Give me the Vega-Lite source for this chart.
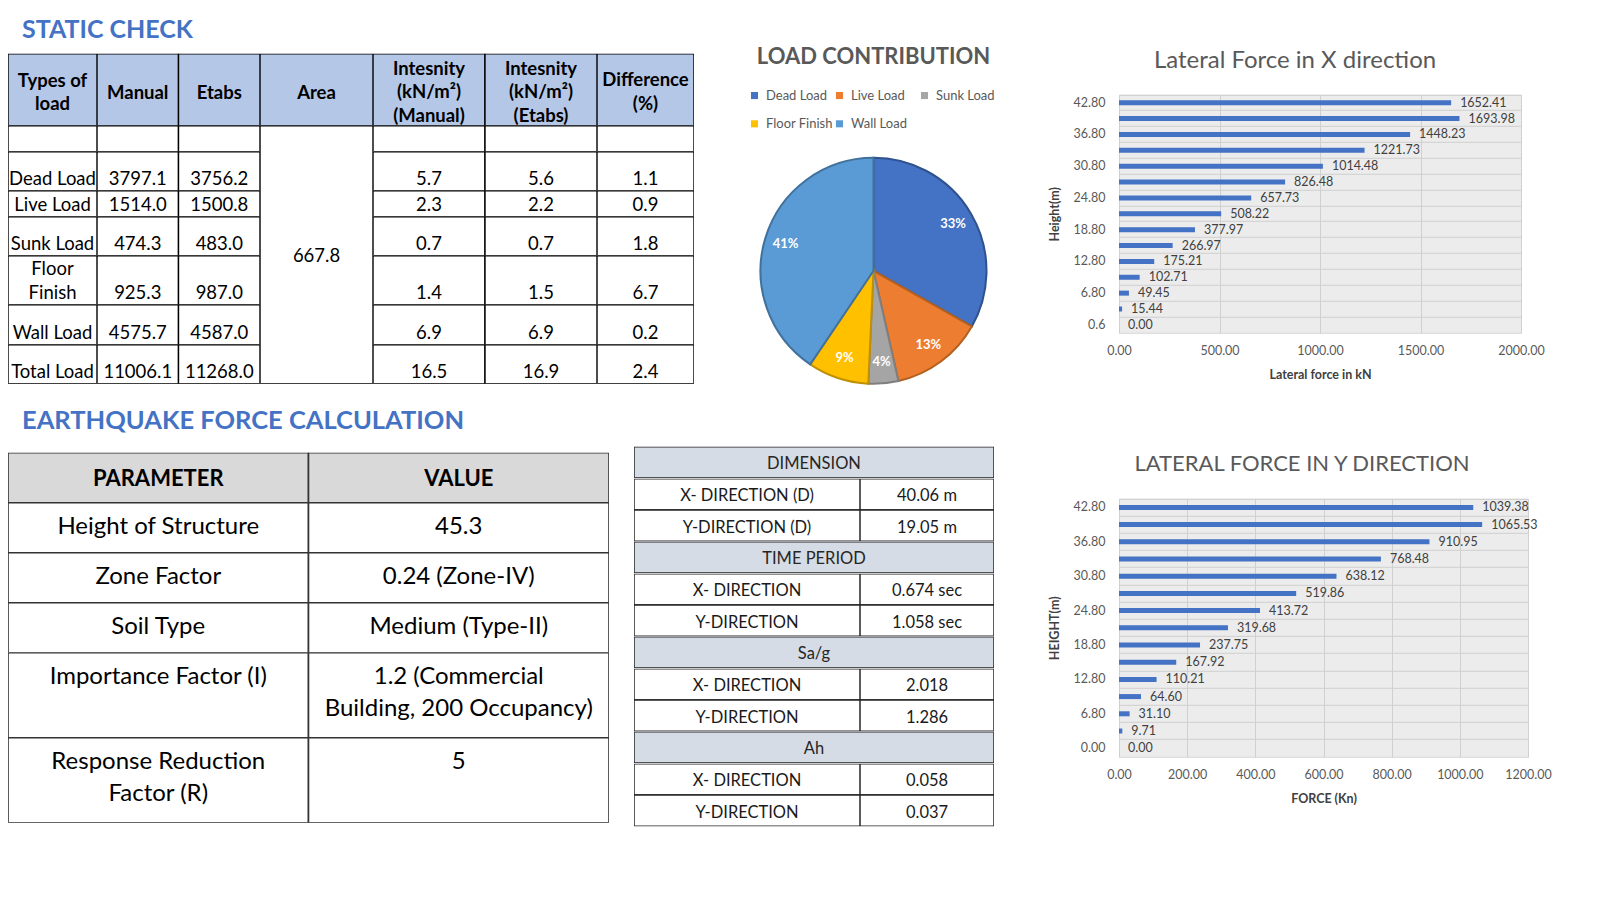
{
"$schema":"https://vega.github.io/schema/vega-lite/v6.json",
"background":"#ffffff",
"padding":{"left":8,"top":16.8,"right":0,"bottom":0},
"autosize":{"type":"pad"},
"config":{"font":"Lato","view":{"stroke":null}},
"title":{"text":"STATIC CHECK","anchor":"start","frame":"group","fontSize":25,"fontWeight":"bold","color":"#4472C4","dx":14,"offset":2.2},
"resolve":{"scale":{"color":"independent","stroke":"independent"}},
"datasets":{
"stL":[
{"r":"H","c":"Types","v":"Types of\nload"},{"r":"H","c":"Manual","v":"Manual"},{"r":"H","c":"Etabs","v":"Etabs"},
{"r":"B","c":"Types","v":""},{"r":"B","c":"Manual","v":""},{"r":"B","c":"Etabs","v":""},
{"r":"Dead","c":"Types","v":"Dead Load"},{"r":"Dead","c":"Manual","v":"3797.1"},{"r":"Dead","c":"Etabs","v":"3756.2"},
{"r":"Live","c":"Types","v":"Live Load"},{"r":"Live","c":"Manual","v":"1514.0"},{"r":"Live","c":"Etabs","v":"1500.8"},
{"r":"Sunk","c":"Types","v":"Sunk Load"},{"r":"Sunk","c":"Manual","v":"474.3"},{"r":"Sunk","c":"Etabs","v":"483.0"},
{"r":"Floor","c":"Types","v":"Floor\nFinish"},{"r":"Floor","c":"Manual","v":"925.3"},{"r":"Floor","c":"Etabs","v":"987.0"},
{"r":"Wall","c":"Types","v":"Wall Load"},{"r":"Wall","c":"Manual","v":"4575.7"},{"r":"Wall","c":"Etabs","v":"4587.0"},
{"r":"Total","c":"Types","v":"Total Load"},{"r":"Total","c":"Manual","v":"11006.1"},{"r":"Total","c":"Etabs","v":"11268.0"}
],
"stR":[
{"r":"H","c":"IM","v":"Intesnity\n(kN/m²)\n(Manual)"},{"r":"H","c":"IE","v":"Intesnity\n(kN/m²)\n(Etabs)"},{"r":"H","c":"D","v":"Difference\n(%)"},
{"r":"B","c":"IM","v":""},{"r":"B","c":"IE","v":""},{"r":"B","c":"D","v":""},
{"r":"Dead","c":"IM","v":"5.7"},{"r":"Dead","c":"IE","v":"5.6"},{"r":"Dead","c":"D","v":"1.1"},
{"r":"Live","c":"IM","v":"2.3"},{"r":"Live","c":"IE","v":"2.2"},{"r":"Live","c":"D","v":"0.9"},
{"r":"Sunk","c":"IM","v":"0.7"},{"r":"Sunk","c":"IE","v":"0.7"},{"r":"Sunk","c":"D","v":"1.8"},
{"r":"Floor","c":"IM","v":"1.4"},{"r":"Floor","c":"IE","v":"1.5"},{"r":"Floor","c":"D","v":"6.7"},
{"r":"Wall","c":"IM","v":"6.9"},{"r":"Wall","c":"IE","v":"6.9"},{"r":"Wall","c":"D","v":"0.2"},
{"r":"Total","c":"IM","v":"16.5"},{"r":"Total","c":"IE","v":"16.9"},{"r":"Total","c":"D","v":"2.4"}
],
"stA":[{"r":"H","v":"Area"},{"r":"Body","v":"667.8"}],
"pie":[
{"load":"Dead Load","etabs":3756.2,"o":1,"pct":"33%"},
{"load":"Live Load","etabs":1500.8,"o":2,"pct":"13%"},
{"load":"Sunk Load","etabs":483.0,"o":3,"pct":"4%"},
{"load":"Floor Finish","etabs":987.0,"o":4,"pct":"9%"},
{"load":"Wall Load","etabs":4587.0,"o":5,"pct":"41%"}
],
"fx":[
{"h":"42.80","f":1652.41},{"h":"39.80","f":1693.98},{"h":"36.80","f":1448.23},{"h":"33.80","f":1221.73},{"h":"30.80","f":1014.48},{"h":"27.80","f":826.48},{"h":"24.80","f":657.73},{"h":"21.80","f":508.22},{"h":"18.80","f":377.97},{"h":"15.80","f":266.97},{"h":"12.80","f":175.21},{"h":"9.80","f":102.71},{"h":"6.80","f":49.45},{"h":"3.80","f":15.44},{"h":"0.6","f":0}
],
"fy":[
{"h":"42.80","f":1039.38},{"h":"39.80","f":1065.53},{"h":"36.80","f":910.95},{"h":"33.80","f":768.48},{"h":"30.80","f":638.12},{"h":"27.80","f":519.86},{"h":"24.80","f":413.72},{"h":"21.80","f":319.68},{"h":"18.80","f":237.75},{"h":"15.80","f":167.92},{"h":"12.80","f":110.21},{"h":"9.80","f":64.60},{"h":"6.80","f":31.10},{"h":"3.80","f":9.71},{"h":"0.00","f":0}
],
"eq":[
{"r":0,"c":"P","v":"PARAMETER"},{"r":0,"c":"V","v":"VALUE"},
{"r":1,"c":"P","v":"Height of Structure"},{"r":1,"c":"V","v":"45.3"},
{"r":2,"c":"P","v":"Zone Factor"},{"r":2,"c":"V","v":"0.24 (Zone-IV)"},
{"r":3,"c":"P","v":"Soil Type"},{"r":3,"c":"V","v":"Medium (Type-II)"},
{"r":4,"c":"P","v":"Importance Factor (I)"},{"r":4,"c":"V","v":"1.2 (Commercial\nBuilding, 200 Occupancy)"},
{"r":5,"c":"P","v":"Response Reduction\nFactor (R)"},{"r":5,"c":"V","v":"5"}
],
"dim":[
{"r":1,"hdr":true,"L":"DIMENSION","R":""},
{"r":2,"hdr":false,"L":"X- DIRECTION (D)","R":"40.06 m"},
{"r":3,"hdr":false,"L":"Y-DIRECTION (D)","R":"19.05 m"},
{"r":4,"hdr":true,"L":"TIME PERIOD","R":""},
{"r":5,"hdr":false,"L":"X- DIRECTION","R":"0.674 sec"},
{"r":6,"hdr":false,"L":"Y-DIRECTION","R":"1.058 sec"},
{"r":7,"hdr":true,"L":"Sa/g","R":""},
{"r":8,"hdr":false,"L":"X- DIRECTION","R":"2.018"},
{"r":9,"hdr":false,"L":"Y-DIRECTION","R":"1.286"},
{"r":10,"hdr":true,"L":"Ah","R":""},
{"r":11,"hdr":false,"L":"X- DIRECTION","R":"0.058"},
{"r":12,"hdr":false,"L":"Y-DIRECTION","R":"0.037"}
]
},
"vconcat":[
{"resolve":{"scale":{"color":"independent","stroke":"independent"}},
 "hconcat":[
 {"vconcat":[
  {"width":686,"height":9,"data":{"values":[{}]},"mark":{"type":"point","opacity":0,"size":1},"view":{"fill":"#ffffff"}},
  {"hconcat":[
  {"vconcat":[
   {"width":89,"height":72,"data":{"name":"stL"},"transform":[{"filter":"datum.r==='H'&&datum.c==='Types'"}],"encoding":{"x":{"field":"c","type":"nominal","axis":null,"scale":{"paddingInner":0,"paddingOuter":0}}},"layer":[{"mark":{"type":"rect","fill":"#B4C7E7","stroke":"#000000","strokeWidth":1.4,"clip":true}},{"mark":{"type":"text","baseline":"middle","dy":-9,"fontSize":18.5,"fontWeight":"bold","lineBreak":"\n","lineHeight":23,"fill":"#000000"},"encoding":{"text":{"field":"v"}}}]},
   {"width":89,"height":26,"data":{"name":"stL"},"transform":[{"filter":"datum.r==='B'&&datum.c==='Types'"}],"encoding":{"x":{"field":"c","type":"nominal","axis":null,"scale":{"paddingInner":0,"paddingOuter":0}}},"layer":[{"mark":{"type":"rect","fill":"#ffffff","stroke":"#000000","strokeWidth":1.4,"clip":true}}]},
   {"width":89,"height":39,"data":{"name":"stL"},"transform":[{"filter":"datum.r==='Dead'&&datum.c==='Types'"}],"encoding":{"x":{"field":"c","type":"nominal","axis":null,"scale":{"paddingInner":0,"paddingOuter":0}}},"layer":[{"mark":{"type":"rect","fill":"#ffffff","stroke":"#000000","strokeWidth":1.4,"clip":true}},{"mark":{"type":"text","baseline":"bottom","dy":18,"fontSize":18.5,"fill":"#000000"},"encoding":{"text":{"field":"v"}}}]},
   {"width":89,"height":26,"data":{"name":"stL"},"transform":[{"filter":"datum.r==='Live'&&datum.c==='Types'"}],"encoding":{"x":{"field":"c","type":"nominal","axis":null,"scale":{"paddingInner":0,"paddingOuter":0}}},"layer":[{"mark":{"type":"rect","fill":"#ffffff","stroke":"#000000","strokeWidth":1.4,"clip":true}},{"mark":{"type":"text","baseline":"bottom","dy":11.5,"fontSize":18.5,"fill":"#000000"},"encoding":{"text":{"field":"v"}}}]},
   {"width":89,"height":39,"data":{"name":"stL"},"transform":[{"filter":"datum.r==='Sunk'&&datum.c==='Types'"}],"encoding":{"x":{"field":"c","type":"nominal","axis":null,"scale":{"paddingInner":0,"paddingOuter":0}}},"layer":[{"mark":{"type":"rect","fill":"#ffffff","stroke":"#000000","strokeWidth":1.4,"clip":true}},{"mark":{"type":"text","baseline":"bottom","dy":18,"fontSize":18.5,"fill":"#000000"},"encoding":{"text":{"field":"v"}}}]},
   {"width":89,"height":49,"data":{"name":"stL"},"transform":[{"filter":"datum.r==='Floor'&&datum.c==='Types'"}],"encoding":{"x":{"field":"c","type":"nominal","axis":null,"scale":{"paddingInner":0,"paddingOuter":0}}},"layer":[{"mark":{"type":"rect","fill":"#ffffff","stroke":"#000000","strokeWidth":1.4,"clip":true}},{"mark":{"type":"text","baseline":"bottom","dy":-1,"fontSize":18.5,"lineBreak":"\n","lineHeight":24,"fill":"#000000"},"encoding":{"text":{"field":"v"}}}]},
   {"width":89,"height":40,"data":{"name":"stL"},"transform":[{"filter":"datum.r==='Wall'&&datum.c==='Types'"}],"encoding":{"x":{"field":"c","type":"nominal","axis":null,"scale":{"paddingInner":0,"paddingOuter":0}}},"layer":[{"mark":{"type":"rect","fill":"#ffffff","stroke":"#000000","strokeWidth":1.4,"clip":true}},{"mark":{"type":"text","baseline":"bottom","dy":18.5,"fontSize":18.5,"fill":"#000000"},"encoding":{"text":{"field":"v"}}}]},
   {"width":89,"height":39,"data":{"name":"stL"},"transform":[{"filter":"datum.r==='Total'&&datum.c==='Types'"}],"encoding":{"x":{"field":"c","type":"nominal","axis":null,"scale":{"paddingInner":0,"paddingOuter":0}}},"layer":[{"mark":{"type":"rect","fill":"#ffffff","stroke":"#000000","strokeWidth":1.4,"clip":true}},{"mark":{"type":"text","baseline":"bottom","dy":18,"fontSize":18.5,"fill":"#000000"},"encoding":{"text":{"field":"v"}}}]}
  ],"spacing":0,"bounds":"flush"},
  {"vconcat":[
   {"width":163,"height":72,"data":{"name":"stL"},"transform":[{"filter":"datum.r==='H'&&datum.c!=='Types'"}],"encoding":{"x":{"field":"c","type":"nominal","sort":["Manual","Etabs"],"axis":null,"scale":{"paddingInner":0,"paddingOuter":0}}},"layer":[{"mark":{"type":"rect","fill":"#B4C7E7","stroke":"#000000","strokeWidth":1.4,"clip":true}},{"mark":{"type":"text","baseline":"middle","dy":3,"fontSize":18.5,"fontWeight":"bold","fill":"#000000"},"encoding":{"text":{"field":"v"}}}]},
   {"width":163,"height":26,"data":{"name":"stL"},"transform":[{"filter":"datum.r==='B'&&datum.c!=='Types'"}],"encoding":{"x":{"field":"c","type":"nominal","sort":["Manual","Etabs"],"axis":null,"scale":{"paddingInner":0,"paddingOuter":0}}},"layer":[{"mark":{"type":"rect","fill":"#ffffff","stroke":"#000000","strokeWidth":1.4,"clip":true}}]},
   {"width":163,"height":39,"data":{"name":"stL"},"transform":[{"filter":"datum.r==='Dead'&&datum.c!=='Types'"}],"encoding":{"x":{"field":"c","type":"nominal","sort":["Manual","Etabs"],"axis":null,"scale":{"paddingInner":0,"paddingOuter":0}}},"layer":[{"mark":{"type":"rect","fill":"#ffffff","stroke":"#000000","strokeWidth":1.4,"clip":true}},{"mark":{"type":"text","baseline":"bottom","dy":18,"fontSize":18.5,"fill":"#000000"},"encoding":{"text":{"field":"v"}}}]},
   {"width":163,"height":26,"data":{"name":"stL"},"transform":[{"filter":"datum.r==='Live'&&datum.c!=='Types'"}],"encoding":{"x":{"field":"c","type":"nominal","sort":["Manual","Etabs"],"axis":null,"scale":{"paddingInner":0,"paddingOuter":0}}},"layer":[{"mark":{"type":"rect","fill":"#ffffff","stroke":"#000000","strokeWidth":1.4,"clip":true}},{"mark":{"type":"text","baseline":"bottom","dy":11.5,"fontSize":18.5,"fill":"#000000"},"encoding":{"text":{"field":"v"}}}]},
   {"width":163,"height":39,"data":{"name":"stL"},"transform":[{"filter":"datum.r==='Sunk'&&datum.c!=='Types'"}],"encoding":{"x":{"field":"c","type":"nominal","sort":["Manual","Etabs"],"axis":null,"scale":{"paddingInner":0,"paddingOuter":0}}},"layer":[{"mark":{"type":"rect","fill":"#ffffff","stroke":"#000000","strokeWidth":1.4,"clip":true}},{"mark":{"type":"text","baseline":"bottom","dy":18,"fontSize":18.5,"fill":"#000000"},"encoding":{"text":{"field":"v"}}}]},
   {"width":163,"height":49,"data":{"name":"stL"},"transform":[{"filter":"datum.r==='Floor'&&datum.c!=='Types'"}],"encoding":{"x":{"field":"c","type":"nominal","sort":["Manual","Etabs"],"axis":null,"scale":{"paddingInner":0,"paddingOuter":0}}},"layer":[{"mark":{"type":"rect","fill":"#ffffff","stroke":"#000000","strokeWidth":1.4,"clip":true}},{"mark":{"type":"text","baseline":"bottom","dy":23,"fontSize":18.5,"fill":"#000000"},"encoding":{"text":{"field":"v"}}}]},
   {"width":163,"height":40,"data":{"name":"stL"},"transform":[{"filter":"datum.r==='Wall'&&datum.c!=='Types'"}],"encoding":{"x":{"field":"c","type":"nominal","sort":["Manual","Etabs"],"axis":null,"scale":{"paddingInner":0,"paddingOuter":0}}},"layer":[{"mark":{"type":"rect","fill":"#ffffff","stroke":"#000000","strokeWidth":1.4,"clip":true}},{"mark":{"type":"text","baseline":"bottom","dy":18.5,"fontSize":18.5,"fill":"#000000"},"encoding":{"text":{"field":"v"}}}]},
   {"width":163,"height":39,"data":{"name":"stL"},"transform":[{"filter":"datum.r==='Total'&&datum.c!=='Types'"}],"encoding":{"x":{"field":"c","type":"nominal","sort":["Manual","Etabs"],"axis":null,"scale":{"paddingInner":0,"paddingOuter":0}}},"layer":[{"mark":{"type":"rect","fill":"#ffffff","stroke":"#000000","strokeWidth":1.4,"clip":true}},{"mark":{"type":"text","baseline":"bottom","dy":18,"fontSize":18.5,"fill":"#000000"},"encoding":{"text":{"field":"v"}}}]}
  ],"spacing":0,"bounds":"flush"},
  {"vconcat":[
   {"width":113,"height":72,"data":{"name":"stA"},"transform":[{"filter":"datum.r==='H'"}],"encoding":{"x":{"field":"r","type":"nominal","axis":null,"scale":{"paddingInner":0,"paddingOuter":0}}},"layer":[{"mark":{"type":"rect","fill":"#B4C7E7","stroke":"#000000","strokeWidth":1.4,"clip":true}},{"mark":{"type":"text","baseline":"middle","dy":3,"fontSize":18.5,"fontWeight":"bold","fill":"#000000"},"encoding":{"text":{"field":"v"}}}]},
   {"width":113,"height":258,"data":{"name":"stA"},"transform":[{"filter":"datum.r==='Body'"}],"encoding":{"x":{"field":"r","type":"nominal","axis":null,"scale":{"paddingInner":0,"paddingOuter":0}}},"layer":[{"mark":{"type":"rect","fill":"#ffffff","stroke":"#000000","strokeWidth":1.4,"clip":true}},{"mark":{"type":"text","baseline":"middle","dy":1,"fontSize":18.5,"fill":"#000000"},"encoding":{"text":{"field":"v"}}}]}
  ],"spacing":0,"bounds":"flush"},
  {"vconcat":[
   {"width":224,"height":72,"data":{"name":"stR"},"transform":[{"filter":"datum.r==='H'&&datum.c!=='D'"}],"encoding":{"x":{"field":"c","type":"nominal","sort":["IM","IE"],"axis":null,"scale":{"paddingInner":0,"paddingOuter":0}}},"layer":[{"mark":{"type":"rect","fill":"#B4C7E7","stroke":"#000000","strokeWidth":1.4,"clip":true}},{"mark":{"type":"text","baseline":"middle","dy":-21,"fontSize":18.5,"fontWeight":"bold","lineBreak":"\n","lineHeight":23.5,"fill":"#000000"},"encoding":{"text":{"field":"v"}}}]},
   {"width":224,"height":26,"data":{"name":"stR"},"transform":[{"filter":"datum.r==='B'&&datum.c!=='D'"}],"encoding":{"x":{"field":"c","type":"nominal","sort":["IM","IE"],"axis":null,"scale":{"paddingInner":0,"paddingOuter":0}}},"layer":[{"mark":{"type":"rect","fill":"#ffffff","stroke":"#000000","strokeWidth":1.4,"clip":true}}]},
   {"width":224,"height":39,"data":{"name":"stR"},"transform":[{"filter":"datum.r==='Dead'&&datum.c!=='D'"}],"encoding":{"x":{"field":"c","type":"nominal","sort":["IM","IE"],"axis":null,"scale":{"paddingInner":0,"paddingOuter":0}}},"layer":[{"mark":{"type":"rect","fill":"#ffffff","stroke":"#000000","strokeWidth":1.4,"clip":true}},{"mark":{"type":"text","baseline":"bottom","dy":18,"fontSize":18.5,"fill":"#000000"},"encoding":{"text":{"field":"v"}}}]},
   {"width":224,"height":26,"data":{"name":"stR"},"transform":[{"filter":"datum.r==='Live'&&datum.c!=='D'"}],"encoding":{"x":{"field":"c","type":"nominal","sort":["IM","IE"],"axis":null,"scale":{"paddingInner":0,"paddingOuter":0}}},"layer":[{"mark":{"type":"rect","fill":"#ffffff","stroke":"#000000","strokeWidth":1.4,"clip":true}},{"mark":{"type":"text","baseline":"bottom","dy":11.5,"fontSize":18.5,"fill":"#000000"},"encoding":{"text":{"field":"v"}}}]},
   {"width":224,"height":39,"data":{"name":"stR"},"transform":[{"filter":"datum.r==='Sunk'&&datum.c!=='D'"}],"encoding":{"x":{"field":"c","type":"nominal","sort":["IM","IE"],"axis":null,"scale":{"paddingInner":0,"paddingOuter":0}}},"layer":[{"mark":{"type":"rect","fill":"#ffffff","stroke":"#000000","strokeWidth":1.4,"clip":true}},{"mark":{"type":"text","baseline":"bottom","dy":18,"fontSize":18.5,"fill":"#000000"},"encoding":{"text":{"field":"v"}}}]},
   {"width":224,"height":49,"data":{"name":"stR"},"transform":[{"filter":"datum.r==='Floor'&&datum.c!=='D'"}],"encoding":{"x":{"field":"c","type":"nominal","sort":["IM","IE"],"axis":null,"scale":{"paddingInner":0,"paddingOuter":0}}},"layer":[{"mark":{"type":"rect","fill":"#ffffff","stroke":"#000000","strokeWidth":1.4,"clip":true}},{"mark":{"type":"text","baseline":"bottom","dy":23,"fontSize":18.5,"fill":"#000000"},"encoding":{"text":{"field":"v"}}}]},
   {"width":224,"height":40,"data":{"name":"stR"},"transform":[{"filter":"datum.r==='Wall'&&datum.c!=='D'"}],"encoding":{"x":{"field":"c","type":"nominal","sort":["IM","IE"],"axis":null,"scale":{"paddingInner":0,"paddingOuter":0}}},"layer":[{"mark":{"type":"rect","fill":"#ffffff","stroke":"#000000","strokeWidth":1.4,"clip":true}},{"mark":{"type":"text","baseline":"bottom","dy":18.5,"fontSize":18.5,"fill":"#000000"},"encoding":{"text":{"field":"v"}}}]},
   {"width":224,"height":39,"data":{"name":"stR"},"transform":[{"filter":"datum.r==='Total'&&datum.c!=='D'"}],"encoding":{"x":{"field":"c","type":"nominal","sort":["IM","IE"],"axis":null,"scale":{"paddingInner":0,"paddingOuter":0}}},"layer":[{"mark":{"type":"rect","fill":"#ffffff","stroke":"#000000","strokeWidth":1.4,"clip":true}},{"mark":{"type":"text","baseline":"bottom","dy":18,"fontSize":18.5,"fill":"#000000"},"encoding":{"text":{"field":"v"}}}]}
  ],"spacing":0,"bounds":"flush"},
  {"vconcat":[
   {"width":97,"height":72,"data":{"name":"stR"},"transform":[{"filter":"datum.r==='H'&&datum.c==='D'"}],"encoding":{"x":{"field":"c","type":"nominal","axis":null,"scale":{"paddingInner":0,"paddingOuter":0}}},"layer":[{"mark":{"type":"rect","fill":"#B4C7E7","stroke":"#000000","strokeWidth":1.4,"clip":true}},{"mark":{"type":"text","baseline":"middle","dy":-9.5,"fontSize":18.5,"fontWeight":"bold","lineBreak":"\n","lineHeight":23.5,"fill":"#000000"},"encoding":{"text":{"field":"v"}}}]},
   {"width":97,"height":26,"data":{"name":"stR"},"transform":[{"filter":"datum.r==='B'&&datum.c==='D'"}],"encoding":{"x":{"field":"c","type":"nominal","axis":null,"scale":{"paddingInner":0,"paddingOuter":0}}},"layer":[{"mark":{"type":"rect","fill":"#ffffff","stroke":"#000000","strokeWidth":1.4,"clip":true}}]},
   {"width":97,"height":39,"data":{"name":"stR"},"transform":[{"filter":"datum.r==='Dead'&&datum.c==='D'"}],"encoding":{"x":{"field":"c","type":"nominal","axis":null,"scale":{"paddingInner":0,"paddingOuter":0}}},"layer":[{"mark":{"type":"rect","fill":"#ffffff","stroke":"#000000","strokeWidth":1.4,"clip":true}},{"mark":{"type":"text","baseline":"bottom","dy":18,"fontSize":18.5,"fill":"#000000"},"encoding":{"text":{"field":"v"}}}]},
   {"width":97,"height":26,"data":{"name":"stR"},"transform":[{"filter":"datum.r==='Live'&&datum.c==='D'"}],"encoding":{"x":{"field":"c","type":"nominal","axis":null,"scale":{"paddingInner":0,"paddingOuter":0}}},"layer":[{"mark":{"type":"rect","fill":"#ffffff","stroke":"#000000","strokeWidth":1.4,"clip":true}},{"mark":{"type":"text","baseline":"bottom","dy":11.5,"fontSize":18.5,"fill":"#000000"},"encoding":{"text":{"field":"v"}}}]},
   {"width":97,"height":39,"data":{"name":"stR"},"transform":[{"filter":"datum.r==='Sunk'&&datum.c==='D'"}],"encoding":{"x":{"field":"c","type":"nominal","axis":null,"scale":{"paddingInner":0,"paddingOuter":0}}},"layer":[{"mark":{"type":"rect","fill":"#ffffff","stroke":"#000000","strokeWidth":1.4,"clip":true}},{"mark":{"type":"text","baseline":"bottom","dy":18,"fontSize":18.5,"fill":"#000000"},"encoding":{"text":{"field":"v"}}}]},
   {"width":97,"height":49,"data":{"name":"stR"},"transform":[{"filter":"datum.r==='Floor'&&datum.c==='D'"}],"encoding":{"x":{"field":"c","type":"nominal","axis":null,"scale":{"paddingInner":0,"paddingOuter":0}}},"layer":[{"mark":{"type":"rect","fill":"#ffffff","stroke":"#000000","strokeWidth":1.4,"clip":true}},{"mark":{"type":"text","baseline":"bottom","dy":23,"fontSize":18.5,"fill":"#000000"},"encoding":{"text":{"field":"v"}}}]},
   {"width":97,"height":40,"data":{"name":"stR"},"transform":[{"filter":"datum.r==='Wall'&&datum.c==='D'"}],"encoding":{"x":{"field":"c","type":"nominal","axis":null,"scale":{"paddingInner":0,"paddingOuter":0}}},"layer":[{"mark":{"type":"rect","fill":"#ffffff","stroke":"#000000","strokeWidth":1.4,"clip":true}},{"mark":{"type":"text","baseline":"bottom","dy":18.5,"fontSize":18.5,"fill":"#000000"},"encoding":{"text":{"field":"v"}}}]},
   {"width":97,"height":39,"data":{"name":"stR"},"transform":[{"filter":"datum.r==='Total'&&datum.c==='D'"}],"encoding":{"x":{"field":"c","type":"nominal","axis":null,"scale":{"paddingInner":0,"paddingOuter":0}}},"layer":[{"mark":{"type":"rect","fill":"#ffffff","stroke":"#000000","strokeWidth":1.4,"clip":true}},{"mark":{"type":"text","baseline":"bottom","dy":18,"fontSize":18.5,"fill":"#000000"},"encoding":{"text":{"field":"v"}}}]}
  ],"spacing":0,"bounds":"flush"}
  ],"spacing":0}
 ],"spacing":0},
 {"width":54,"height":1,"data":{"values":[{}]},"mark":{"type":"point","opacity":0,"size":1},"view":{"fill":"#ffffff"}},
 {"resolve":{"scale":{"color":"independent","stroke":"independent"}},
  "vconcat":[
  {"width":251,"height":113,"data":{"values":[{}]},"mark":{"type":"point","opacity":0,"size":1},"view":{"fill":"#ffffff"}},
  {"width":251,"height":226,"data":{"name":"pie"},
   "title":{"text":"LOAD CONTRIBUTION","fontSize":22,"fontWeight":"bold","color":"#595959","anchor":"middle","frame":"group","dx":0,"offset":19.75},
   "encoding":{"theta":{"field":"etabs","type":"quantitative","stack":true},"order":{"field":"o","type":"ordinal"}},
   "layer":[
    {"mark":{"type":"arc","radius":113,"strokeWidth":2},
     "encoding":{
      "color":{"field":"load","type":"nominal","scale":{"domain":["Dead Load","Live Load","Sunk Load","Floor Finish","Wall Load"],"range":["#4472C4","#ED7D31","#A5A5A5","#FFC000","#5B9BD5"]},
       "legend":{"orient":"top","offset":27.25,"direction":"horizontal","columns":3,"gridAlign":"all","columnPadding":0,"rowPadding":14.5,"symbolType":"square","symbolSize":50,"symbolStrokeWidth":0,"labelFontSize":13,"labelColor":"#595959","labelOffset":5,"title":null,"padding":0}},
      "stroke":{"field":"load","type":"nominal","scale":{"domain":["Dead Load","Live Load","Sunk Load","Floor Finish","Wall Load"],"range":["#2F528F","#B4601F","#7F7F7F","#BF9000","#41719C"]},"legend":null}}},
    {"mark":{"type":"text","radius":92,"fill":"#ffffff","fontSize":13,"fontWeight":"bold"},"encoding":{"text":{"field":"pct"}}}
   ]}
 ],"spacing":0,"bounds":"flush"},
 {"width":48,"height":1,"data":{"values":[{}]},"mark":{"type":"point","opacity":0,"size":1},"view":{"fill":"#ffffff"}},
 {"vconcat":[
  {"width":402,"height":50,"data":{"values":[{}]},"mark":{"type":"point","opacity":0,"size":1},"view":{"fill":"#ffffff"}},
  {"width":402,"height":238,"data":{"name":"fx"},
   "title":{"text":"Lateral Force in X direction","fontSize":24,"fontWeight":"normal","color":"#595959","anchor":"middle","frame":"group","dx":-25,"offset":22},
   "view":{"fill":"#ececec","stroke":"#d9d9d9"},
   "encoding":{"x":{"field":"f","type":"quantitative","scale":{"domain":[0,2000],"nice":false},"axis":{"values":[0,500,1000,1500,2000],"format":".2f","grid":true,"gridColor":"#d0d0d0","ticks":false,"tickSize":0,"domain":false,"labelPadding":12,"labelFontSize":12.5,"labelColor":"#595959","labelFlush":false,"labelOverlap":false,"title":"Lateral force in kN","titleFontSize":12.5,"titleFontWeight":"bold","titleColor":"#404040","titlePadding":11}}},
   "layer":[
    {"mark":{"type":"bar","size":5,"color":"#4472C4"},"encoding":{"y":{"field":"h","type":"nominal","sort":null,"scale":{"paddingInner":0,"paddingOuter":0},"axis":{"values":["42.80","36.80","30.80","24.80","18.80","12.80","6.80","0.6"],"ticks":false,"tickSize":0,"domain":false,"grid":false,"labelPadding":14,"labelFontSize":12.5,"labelColor":"#595959","title":"Height(m)","titleFontSize":12.5,"titleFontWeight":"bold","titleColor":"#404040","titlePadding":12}}}},
    {"mark":{"type":"text","align":"left","dx":9,"fontSize":12.5,"fill":"#404040"},"encoding":{"text":{"field":"f","format":".2f"},"y":{"field":"h","type":"nominal","sort":null,"scale":{"paddingInner":0,"paddingOuter":0},"axis":{"orient":"right","grid":true,"gridColor":"#d0d0d0","bandPosition":0,"labels":false,"ticks":false,"domain":false,"title":null}}}}
   ],
   "resolve":{"axis":{"y":"independent"}}}
 ],"spacing":0,"bounds":"flush"}
],"spacing":0},
{"hconcat":[
 {"title":{"text":"EARTHQUAKE FORCE CALCULATION","anchor":"start","frame":"group","fontSize":25.5,"fontWeight":"bold","color":"#4472C4","dx":14,"offset":12.25},
  "vconcat":[
   {"width":601,"height":5.65,"data":{"values":[{}]},"mark":{"type":"point","opacity":0,"size":1},"view":{"fill":"#ffffff"}},
   {"width":601,"height":200,"data":{"name":"eq"},"transform":[{"filter":"datum.r<=3"}],
    "encoding":{"x":{"field":"c","type":"nominal","sort":["P","V"],"axis":null,"scale":{"paddingInner":0,"paddingOuter":0}},"y":{"field":"r","type":"ordinal","axis":null,"scale":{"paddingInner":0,"paddingOuter":0}}},
    "layer":[
     {"mark":{"type":"rect","stroke":"#333333","strokeWidth":1.6,"clip":true},"encoding":{"fill":{"condition":{"test":"datum.r===0","value":"#D9D9D9"},"value":"#ffffff"}}},
     {"transform":[{"filter":"datum.r===0"}],"mark":{"type":"text","fontSize":22,"fontWeight":"bold","fill":"#000000","dy":1},"encoding":{"text":{"field":"v"}}},
     {"transform":[{"filter":"datum.r>0"}],"mark":{"type":"text","fontSize":24,"fill":"#000000","dy":-1},"encoding":{"text":{"field":"v"}}}
    ]},
   {"width":601,"height":170,"data":{"name":"eq"},"transform":[{"filter":"datum.r>=4"}],
    "encoding":{"x":{"field":"c","type":"nominal","sort":["P","V"],"axis":null,"scale":{"paddingInner":0,"paddingOuter":0}},"y":{"field":"r","type":"ordinal","axis":null,"scale":{"paddingInner":0,"paddingOuter":0}}},
    "layer":[
     {"mark":{"type":"rect","fill":"#ffffff","stroke":"#333333","strokeWidth":1.6,"clip":true}},
     {"mark":{"type":"text","baseline":"top","dy":12,"fontSize":24,"lineBreak":"\n","lineHeight":32,"fill":"#000000"},"encoding":{"text":{"field":"v"},"y":{"field":"r","type":"ordinal","bandPosition":0,"axis":null,"scale":{"paddingInner":0,"paddingOuter":0}}}}
    ]}
  ],"spacing":0,"bounds":"flush"},
 {"vconcat":[
  {"width":360,"height":31.25,"data":{"name":"dim"},"transform":[{"filter":"datum.r===1"}],"encoding":{"y":{"field":"r","type":"ordinal","axis":null,"scale":{"paddingInner":0,"paddingOuter":0}}},"layer":[{"mark":{"type":"rect","fill":"#D6DCE5","stroke":"#262626","strokeWidth":1.5,"clip":true}},{"mark":{"type":"text","fontSize":16.5,"dy":2,"fill":"#262626"},"encoding":{"text":{"field":"L"}}}]},
  {"hconcat":[
   {"width":226,"height":62.5,"data":{"name":"dim"},"transform":[{"filter":"datum.r>=2&&datum.r<=3"}],"encoding":{"y":{"field":"r","type":"ordinal","axis":null,"scale":{"paddingInner":0,"paddingOuter":0}}},"layer":[{"mark":{"type":"rect","fill":"#ffffff","stroke":"#262626","strokeWidth":1.5,"clip":true}},{"mark":{"type":"text","fontSize":16.5,"dy":2,"fill":"#1a1a1a"},"encoding":{"text":{"field":"L"}}}]},
   {"width":134,"height":62.5,"data":{"name":"dim"},"transform":[{"filter":"datum.r>=2&&datum.r<=3"}],"encoding":{"y":{"field":"r","type":"ordinal","axis":null,"scale":{"paddingInner":0,"paddingOuter":0}}},"layer":[{"mark":{"type":"rect","fill":"#ffffff","stroke":"#262626","strokeWidth":1.5,"clip":true}},{"mark":{"type":"text","fontSize":16.5,"dy":2,"fill":"#1a1a1a"},"encoding":{"text":{"field":"R"}}}]}
  ],"spacing":0,"bounds":"flush"},
  {"width":360,"height":31.25,"data":{"name":"dim"},"transform":[{"filter":"datum.r===4"}],"encoding":{"y":{"field":"r","type":"ordinal","axis":null,"scale":{"paddingInner":0,"paddingOuter":0}}},"layer":[{"mark":{"type":"rect","fill":"#D6DCE5","stroke":"#262626","strokeWidth":1.5,"clip":true}},{"mark":{"type":"text","fontSize":16.5,"dy":2,"fill":"#262626"},"encoding":{"text":{"field":"L"}}}]},
  {"hconcat":[
   {"width":226,"height":62.5,"data":{"name":"dim"},"transform":[{"filter":"datum.r>=5&&datum.r<=6"}],"encoding":{"y":{"field":"r","type":"ordinal","axis":null,"scale":{"paddingInner":0,"paddingOuter":0}}},"layer":[{"mark":{"type":"rect","fill":"#ffffff","stroke":"#262626","strokeWidth":1.5,"clip":true}},{"mark":{"type":"text","fontSize":16.5,"dy":2,"fill":"#1a1a1a"},"encoding":{"text":{"field":"L"}}}]},
   {"width":134,"height":62.5,"data":{"name":"dim"},"transform":[{"filter":"datum.r>=5&&datum.r<=6"}],"encoding":{"y":{"field":"r","type":"ordinal","axis":null,"scale":{"paddingInner":0,"paddingOuter":0}}},"layer":[{"mark":{"type":"rect","fill":"#ffffff","stroke":"#262626","strokeWidth":1.5,"clip":true}},{"mark":{"type":"text","fontSize":16.5,"dy":2,"fill":"#1a1a1a"},"encoding":{"text":{"field":"R"}}}]}
  ],"spacing":0,"bounds":"flush"},
  {"width":360,"height":31.25,"data":{"name":"dim"},"transform":[{"filter":"datum.r===7"}],"encoding":{"y":{"field":"r","type":"ordinal","axis":null,"scale":{"paddingInner":0,"paddingOuter":0}}},"layer":[{"mark":{"type":"rect","fill":"#D6DCE5","stroke":"#262626","strokeWidth":1.5,"clip":true}},{"mark":{"type":"text","fontSize":16.5,"dy":2,"fill":"#262626"},"encoding":{"text":{"field":"L"}}}]},
  {"hconcat":[
   {"width":226,"height":62.5,"data":{"name":"dim"},"transform":[{"filter":"datum.r>=8&&datum.r<=9"}],"encoding":{"y":{"field":"r","type":"ordinal","axis":null,"scale":{"paddingInner":0,"paddingOuter":0}}},"layer":[{"mark":{"type":"rect","fill":"#ffffff","stroke":"#262626","strokeWidth":1.5,"clip":true}},{"mark":{"type":"text","fontSize":16.5,"dy":2,"fill":"#1a1a1a"},"encoding":{"text":{"field":"L"}}}]},
   {"width":134,"height":62.5,"data":{"name":"dim"},"transform":[{"filter":"datum.r>=8&&datum.r<=9"}],"encoding":{"y":{"field":"r","type":"ordinal","axis":null,"scale":{"paddingInner":0,"paddingOuter":0}}},"layer":[{"mark":{"type":"rect","fill":"#ffffff","stroke":"#262626","strokeWidth":1.5,"clip":true}},{"mark":{"type":"text","fontSize":16.5,"dy":2,"fill":"#1a1a1a"},"encoding":{"text":{"field":"R"}}}]}
  ],"spacing":0,"bounds":"flush"},
  {"width":360,"height":31.25,"data":{"name":"dim"},"transform":[{"filter":"datum.r===10"}],"encoding":{"y":{"field":"r","type":"ordinal","axis":null,"scale":{"paddingInner":0,"paddingOuter":0}}},"layer":[{"mark":{"type":"rect","fill":"#D6DCE5","stroke":"#262626","strokeWidth":1.5,"clip":true}},{"mark":{"type":"text","fontSize":16.5,"dy":2,"fill":"#262626"},"encoding":{"text":{"field":"L"}}}]},
  {"hconcat":[
   {"width":226,"height":62.5,"data":{"name":"dim"},"transform":[{"filter":"datum.r>=11&&datum.r<=12"}],"encoding":{"y":{"field":"r","type":"ordinal","axis":null,"scale":{"paddingInner":0,"paddingOuter":0}}},"layer":[{"mark":{"type":"rect","fill":"#ffffff","stroke":"#262626","strokeWidth":1.5,"clip":true}},{"mark":{"type":"text","fontSize":16.5,"dy":2,"fill":"#1a1a1a"},"encoding":{"text":{"field":"L"}}}]},
   {"width":134,"height":62.5,"data":{"name":"dim"},"transform":[{"filter":"datum.r>=11&&datum.r<=12"}],"encoding":{"y":{"field":"r","type":"ordinal","axis":null,"scale":{"paddingInner":0,"paddingOuter":0}}},"layer":[{"mark":{"type":"rect","fill":"#ffffff","stroke":"#262626","strokeWidth":1.5,"clip":true}},{"mark":{"type":"text","fontSize":16.5,"dy":2,"fill":"#1a1a1a"},"encoding":{"text":{"field":"R"}}}]}
  ],"spacing":0,"bounds":"flush"}
 ],"spacing":0},
 {"width":3,"height":1,"data":{"values":[{}]},"mark":{"type":"point","opacity":0,"size":1},"view":{"fill":"#ffffff"}},
 {"vconcat":[
  {"width":409,"height":51.65,"data":{"values":[{}]},"mark":{"type":"point","opacity":0,"size":1},"view":{"fill":"#ffffff"}},
  {"width":409,"height":258,"data":{"name":"fy"},
   "title":{"text":"LATERAL FORCE IN Y DIRECTION","fontSize":22,"fontWeight":"normal","color":"#595959","anchor":"middle","frame":"group","dx":-21.5,"offset":23},
   "view":{"fill":"#ececec","stroke":"#d9d9d9"},
   "encoding":{"x":{"field":"f","type":"quantitative","scale":{"domain":[0,1200],"nice":false},"axis":{"values":[0,200,400,600,800,1000,1200],"format":".2f","grid":true,"gridColor":"#d0d0d0","ticks":false,"tickSize":0,"domain":false,"labelPadding":12,"labelFontSize":12.5,"labelColor":"#595959","labelFlush":false,"labelOverlap":false,"title":"FORCE (Kn)","titleFontSize":12.5,"titleFontWeight":"bold","titleColor":"#404040","titlePadding":11}}},
   "layer":[
    {"mark":{"type":"bar","size":5,"color":"#4472C4"},"encoding":{"y":{"field":"h","type":"nominal","sort":null,"scale":{"paddingInner":0,"paddingOuter":0},"axis":{"values":["42.80","36.80","30.80","24.80","18.80","12.80","6.80","0.00"],"ticks":false,"tickSize":0,"domain":false,"grid":false,"labelPadding":14,"labelFontSize":12.5,"labelColor":"#595959","title":"HEIGHT(m)","titleFontSize":12.5,"titleFontWeight":"bold","titleColor":"#404040","titlePadding":12}}}},
    {"mark":{"type":"text","align":"left","dx":9,"fontSize":12.5,"fill":"#404040"},"encoding":{"text":{"field":"f","format":".2f"},"y":{"field":"h","type":"nominal","sort":null,"scale":{"paddingInner":0,"paddingOuter":0},"axis":{"orient":"right","grid":true,"gridColor":"#d0d0d0","bandPosition":0,"labels":false,"ticks":false,"domain":false,"title":null}}}}
   ],
   "resolve":{"axis":{"y":"independent"}}}
 ],"spacing":0,"bounds":"flush"}
],"spacing":25}
],
"spacing":21
}
